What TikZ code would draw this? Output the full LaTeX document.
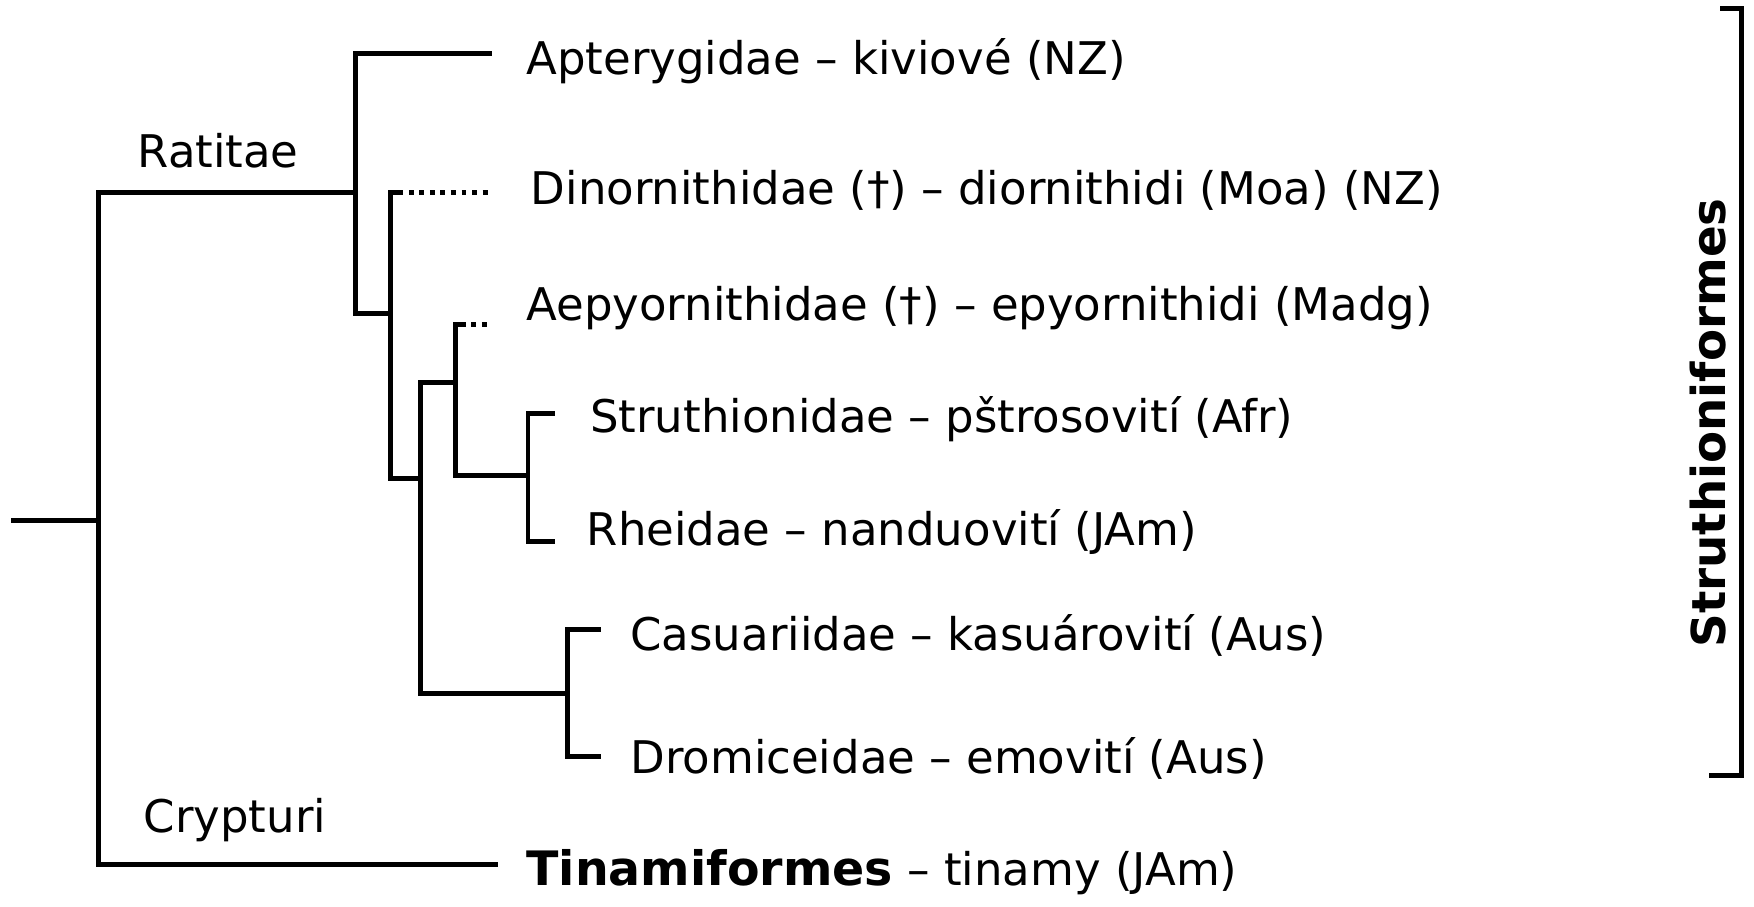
\documentclass[tikz,border=0pt]{standalone}
\usepackage{fontspec}
\setmainfont{DejaVu Sans}
\begin{document}
\begin{tikzpicture}[x=0.011186cm, y=-0.011186cm,
  br/.style={line width=1.4pt, line cap=rect},
  dotl/.style={line width=1.4pt, dash pattern=on 1.4pt off 1.6pt},
  lbl/.style={anchor=west, inner sep=0pt, font=\fontsize{12.8}{15}\selectfont},
  clade/.style={anchor=center, inner sep=0pt, font=\fontsize{12.8}{15}\selectfont}]
\useasboundingbox (0,0) rectangle (1568,810);
% coordinates of the tree
\coordinate (r0) at (12,465);
\coordinate (r1) at (88,465);
\coordinate (rt) at (88,172);
\coordinate (rb) at (88,773);
\coordinate (cr) at (443,773);
\coordinate (ra) at (318,172);
\coordinate (at) at (318,48);
\coordinate (ae) at (438,48);
\coordinate (ab) at (318,280);
\coordinate (abe) at (349,280);
\coordinate (bt) at (349,172);
\coordinate (btc) at (356,172);
\coordinate (bte) at (438,172);
\coordinate (bb) at (349,428);
\coordinate (bbe) at (376,428);
\coordinate (ct) at (376,342);
\coordinate (cte) at (407,342);
\coordinate (cb) at (376,620);
\coordinate (cbe) at (507,620);
\coordinate (dt) at (407,290);
\coordinate (dtc) at (412,290);
\coordinate (dte) at (435,290);
\coordinate (db) at (407,425);
\coordinate (dbe) at (472,425);
\coordinate (et) at (472,370);
\coordinate (ete) at (494,370);
\coordinate (eb) at (472,484);
\coordinate (ebe) at (494,484);
\coordinate (ft) at (507,563);
\coordinate (fte) at (535,563);
\coordinate (fb) at (507,676);
\coordinate (fbe) at (535,676);
% branches
\draw[br] (r0) -- (r1);
\draw[br] (ra) -- (rt) -- (rb) -- (cr);
\draw[br] (ae) -- (at) -- (ab) -- (abe);
\draw[br] (btc) -- (bt) -- (bb) -- (bbe);
\draw[dotl] (btc) -- (bte);
\draw[br] (cte) -- (ct) -- (cb) -- (cbe);
\draw[br] (dtc) -- (dt) -- (db) -- (dbe);
\draw[dotl] (dtc) -- (dte);
\draw[br] (ete) -- (et) -- (eb) -- (ebe);
\draw[br] (fte) -- (ft) -- (fb) -- (fbe);
% clade labels
\node[clade] (ratitae) at (195,135) {Ratitae};
\node[clade] (crypturi) at (210,733) {Crypturi};
% taxa
\node[lbl] (apt) at (470,55) {Apterygidae – kiviové (NZ)};
\node[lbl] (din) at (474,170) {Dinornithidae (†) – diornithidi (Moa) (NZ)};
\node[lbl] (aep) at (470,275) {Aepyornithidae (†) – epyornithidi (Madg)};
\node[lbl] (str) at (527,375) {Struthionidae – pštrosovití (Afr)};
\node[lbl] (rhe) at (524,476) {Rheidae – nanduovití (JAm)};
\node[lbl] (cas) at (563,568) {Casuariidae – kasuárovití (Aus)};
\node[lbl] (dro) at (563,678) {Dromiceidae – emovití (Aus)};
\node[lbl] (tin) at (470,780) {\fontsize{13.5}{15}\selectfont\textbf{Tinamiformes}\fontsize{12.8}{15}\selectfont{} – tinamy (JAm)};
% bracket
\coordinate (k1) at (1540,8);
\coordinate (k2) at (1557,8);
\coordinate (k3) at (1557,693);
\coordinate (k4) at (1530,693);
\draw[br] (k1) -- (k2) -- (k3) -- (k4);
\node[clade, rotate=90, font=\fontsize{13.3}{15}\selectfont\bfseries] (stru) at (1527,378) {Struthioniformes};
\end{tikzpicture}
\end{document}
